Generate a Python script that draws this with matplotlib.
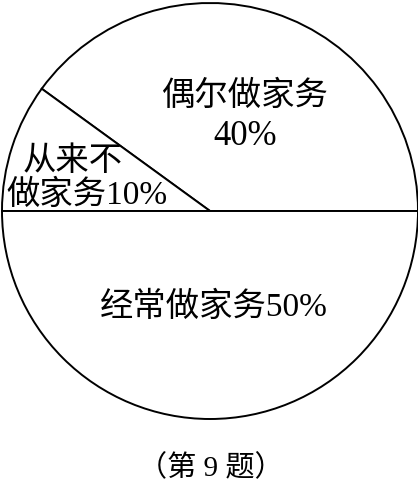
import matplotlib
matplotlib.use("Agg")
import matplotlib.pyplot as plt

categories = ["偶尔做家务", "从来不做家务", "经常做家务"]
values = [40, 10, 50]
caption = "（第 9 题）"

FONT = ["Liberation Serif", "Noto Sans CJK SC", "DejaVu Sans"]
plt.rcParams["font.family"] = FONT

W, H = 418, 489
fig = plt.figure(figsize=(W / 100, H / 100), dpi=100)
ax = fig.add_axes([0, 0, 1, 1])
ax.set_xlim(0, W)
ax.set_ylim(0, H)
ax.set_aspect("equal")
ax.axis("off")

cx, cy, r = 210, H - 212, 208
ax.pie(values, startangle=0, counterclock=True, center=(cx, cy), radius=r,
       colors=["white"] * 3,
       wedgeprops=dict(edgecolor="black", linewidth=1.4))
ax.set_xlim(0, W)
ax.set_ylim(0, H)

fs = 24
ax.text(244, H - 96, categories[0], ha="center", va="center", fontsize=fs)
ax.text(245, H - 137, f"{values[0]}%", ha="center", va="center", fontsize=fs + 1)
ax.text(23, H - 162, categories[1][:3], ha="left", va="center", fontsize=fs)
ax.text(6, H - 195, f"{categories[1][3:]}{values[1]}%", ha="left", va="center", fontsize=fs)
ax.text(214, H - 307, f"{categories[2]}{values[2]}%", ha="center", va="center", fontsize=fs)
ax.text(211, H - 468, caption, ha="center", va="center", fontsize=21)

fig.savefig("out.png", dpi=100, facecolor="white")
